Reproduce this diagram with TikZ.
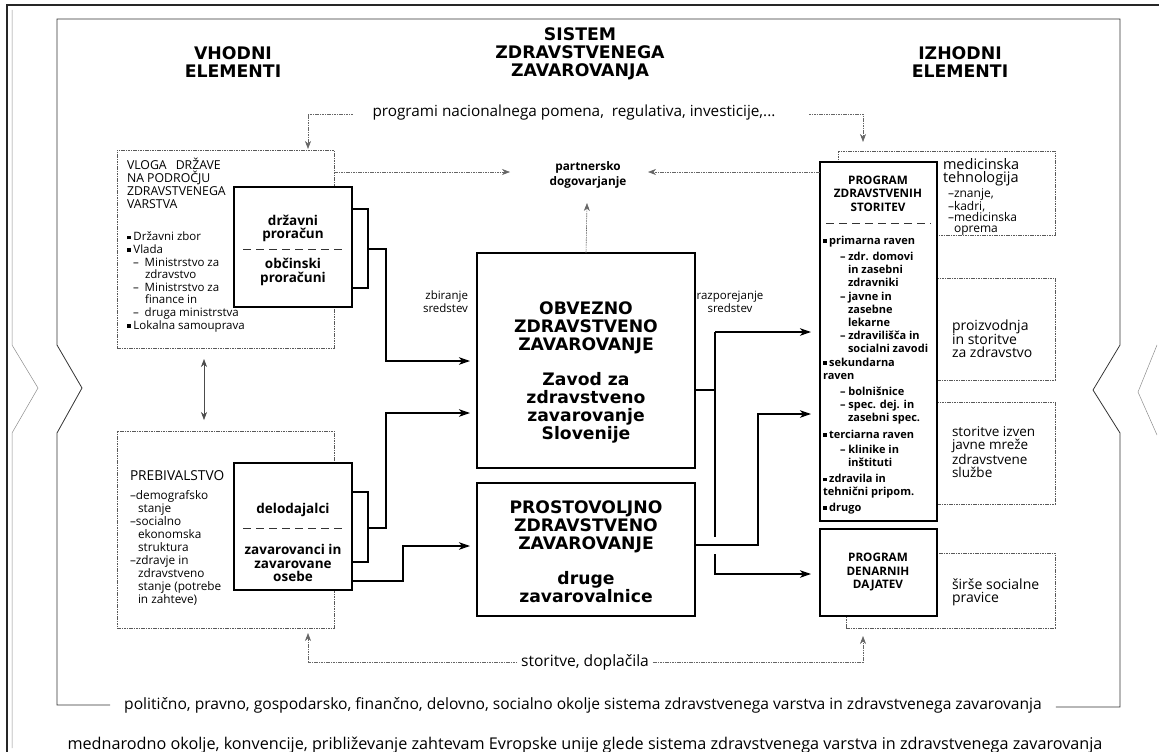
\documentclass[tikz,border=0pt]{standalone}
\usepackage{fontspec}
\setmainfont{Open Sans}
\newfontfamily\wide{DejaVu Sans}
\usetikzlibrary{arrows.meta,calc}
\newcommand{\bul}{\rule[0.12em]{0.34em}{0.34em}\hspace{0.22em}}
\newcommand{\fs}[2]{\fontsize{#1}{#2}\selectfont}
\begin{document}
\begin{tikzpicture}[x=1pt,y=-1pt,
  every node/.style={inner sep=0pt, outer sep=0pt, font=\fs{12}{13}},
  dbox/.style={draw=black!65, dash pattern=on 1.6pt off 0.8pt, line width=0.6pt, fill=white, anchor=north west},
  tbox/.style={draw=black, line width=1.8pt, fill=white, anchor=north west},
  conn/.style={line width=1.6pt, line join=miter},
  arr/.style={conn, -{Stealth[length=11pt,width=7.5pt,inset=3pt]}},
  dconn/.style={draw=black!60, dash pattern=on 1.6pt off 0.8pt, line width=0.6pt},
  darr/.style={dconn, -{Stealth[length=8pt,width=6pt,inset=2.5pt]}},
  sep/.style={dash pattern=on 8pt off 5pt, line width=1pt, draw=black!80},
  head/.style={font=\wide\bfseries\fs{17.3}{18}, align=center},
  bigt/.style={font=\wide\bfseries\fs{17.2}{18}, align=center},
  boxt/.style={font=\bfseries\fs{13.5}{13.5}, align=center},
  prgt/.style={font=\bfseries\fs{11.7}{13.5}, align=center}
]
\useasboundingbox (0,0) rectangle (1159,752);

% outer frames
\draw[line width=1.4pt, black!85] (7,752) -- (7,5) -- (1159,5);
\draw[line width=0.5pt, black!45] (12,748) -- (12,433) -- (38,388) -- (12,345) -- (12,10);
\draw[line width=0.5pt, black!45] (1157,345) -- (1138,392) -- (1157,435);

% headers
\node[head] (hv) at (233,62) {VHODNI\\ELEMENTI};
\node[head] (hs) at (580,54) {SISTEM\\ZDRAVSTVENEGA\\ZAVAROVANJA};
\node[head] (hi) at (960,62) {IZHODNI\\ELEMENTI};

% bottom texts
\node[font=\fs{15.6}{16}] (pol) at (583,705) {politično, pravno, gospodarsko, finančno, delovno, socialno okolje sistema zdravstvenega varstva in zdravstvenega zavarovanja};
\node[font=\fs{16.2}{17}] (mednar) at (585,745) {mednarodno okolje, konvencije, približevanje zahtevam Evropske unije glede sistema zdravstvenega varstva in zdravstvenega zavarovanja};

% inner frame
\draw[line width=0.8pt, black!80] ($(pol.west)+(-14,0)$) -- (57,705) -- (57,433) -- (82,388) -- (57,345) -- (57,19) -- (1120,19) -- (1120,345) -- (1093,390) -- (1120,433) -- (1120,707) -- ($(pol.east)+(14,2)$);

% top texts
\node[font=\fs{15.3}{16}] (prg) at (574,113) {programi nacionalnega pomena,\ \ regulativa, investicije,...};
\node[font=\bfseries\fs{11.8}{14.5}, align=center] (part) at (588,175) {partnersko\\dogovarjanje};

% left side
\node[dbox, minimum width=217, minimum height=198] (vloga) at (117,150) {};
\node[font=\fs{12.3}{12.7}, align=left, anchor=north west] (vlogat) at (127,158.5) {VLOGA\hspace{9pt}DRŽAVE\\NA PODROČJU\\ZDRAVSTVENEGA\\VARSTVA};
\node[font=\fs{11.5}{12.6}, align=left, anchor=north west] (vlogal) at (127,232) {\bul Državni zbor\\\bul Vlada\\\hspace*{6pt}–\ \ Ministrstvo za\\\hspace*{18pt}zdravstvo\\\hspace*{6pt}–\ \ Ministrstvo za\\\hspace*{18pt}finance in\\\hspace*{6pt}–\ \ druga ministrstva\\\bul Lokalna samouprava};
\node[tbox, minimum width=118, minimum height=120] (bud) at (234,187) {};
\node[boxt] (budt1) at (293,228.5) {državni\\proračun};
\node[boxt] (budt2) at (293,272) {občinski\\proračuni};
\draw[sep] ($(bud.north west)+(9,62)$) -- ($(bud.north east)+(-9,62)$);

\node[dbox, minimum width=217, minimum height=197] (preb) at (117,431) {};
\node[font=\fs{13.7}{13}, anchor=west] (prebt) at (130,476) {PREBIVALSTVO};
\node[font=\fs{11.8}{13}, align=left, anchor=north west] (prebl) at (130,490) {–demografsko\\\hspace*{8pt}stanje\\–socialno\\\hspace*{8pt}ekonomska\\\hspace*{8pt}struktura\\–zdravje in\\\hspace*{8pt}zdravstveno\\\hspace*{8pt}stanje (potrebe\\\hspace*{8pt}in zahteve)};
\node[tbox, minimum width=118, minimum height=127] (delo) at (234,463) {};
\node[boxt] (delot1) at (293,510) {delodajalci};
\node[boxt] (delot2) at (293,563) {zavarovanci in\\zavarovane\\osebe};
\draw[sep] ($(delo.north west)+(9,65)$) -- ($(delo.north east)+(-9,65)$);

\draw[<->, >={Stealth[length=8pt,width=6pt,inset=2.5pt]}, line width=0.6pt, black!70, shorten <=11pt, shorten >=11pt] ($(vloga.south west)+(87,0)$) -- ($(preb.north west)+(87,0)$);

% centre
\node[tbox, minimum width=218, minimum height=215] (obv) at (477,253) {};
\node[bigt] (obvt) at (586,372) {OBVEZNO\\ZDRAVSTVENO\\ZAVAROVANJE\\[17pt]Zavod za\\zdravstveno\\zavarovanje\\Slovenije};
\node[tbox, minimum width=218, minimum height=133] (pros) at (477,483) {};
\node[bigt] (prost) at (586,552) {PROSTOVOLJNO\\ZDRAVSTVENO\\ZAVAROVANJE\\[17pt]druge\\zavarovalnice};
\node[font=\fs{11.5}{13}, align=right, anchor=east] (zbir) at (468,301.5) {zbiranje\\sredstev};
\node[font=\fs{11.5}{13}, align=center] (razp) at (730,301.5) {razporejanje\\sredstev};

% right side
\node[dbox, minimum width=217, minimum height=84] (med) at (838,151) {};
\node[dbox, minimum width=118, minimum height=102] (proi) at (937,278) {};
\node[dbox, minimum width=118, minimum height=102] (izven) at (937,402) {};
\node[dbox, minimum width=209, minimum height=75] (sirse) at (846,553) {};
\node[tbox, minimum width=117, minimum height=359] (prog) at (820,162) {};
\node[tbox, minimum width=117, minimum height=87] (den) at (820,529) {};

\node[font=\fs{14.5}{13}, align=left, anchor=north west] (medt) at (943,158) {medicinska\\tehnologija};
\node[font=\fs{12}{11}, align=left, anchor=north west] (medl) at (948,189) {–znanje,\\–kadri,\\–medicinska\\\hspace*{6pt}oprema};
\node[font=\fs{14}{12.7}, align=left, anchor=north west] (proit) at (952,319.5) {proizvodnja\\in storitve\\za zdravstvo};
\node[font=\fs{13.5}{12.9}, align=left, anchor=north west] (izvent) at (952,427) {storitve izven\\javne mreže\\zdravstvene\\službe};
\node[font=\fs{14}{12.9}, align=left, anchor=north west] (sirset) at (952,578.5) {širše socialne\\pravice};

\node[prgt] (progt) at (878,193.5) {PROGRAM\\ZDRAVSTVENIH\\STORITEV};
\draw[sep] ($(prog.north west)+(6,61)$) -- ($(prog.north east)+(-6,61)$);
\node[font=\bfseries\fs{11}{13.2}, align=left, anchor=north west] (progl) at (823,236) {\bul primarna raven\\[3pt]
\hspace*{17pt}– zdr. domovi\\\hspace*{25pt}in zasebni\\\hspace*{25pt}zdravniki\\
\hspace*{17pt}– javne in\\\hspace*{25pt}zasebne\\\hspace*{25pt}lekarne\\
\hspace*{17pt}– zdravilišča in\\\hspace*{25pt}socialni zavodi\\
\bul sekundarna\\raven\\[3pt]
\hspace*{17pt}– bolnišnice\\\hspace*{17pt}– spec. dej. in\\\hspace*{25pt}zasebni spec.\\[3pt]
\bul terciarna raven\\[2pt]
\hspace*{17pt}– klinike in\\\hspace*{25pt}inštituti\\[3pt]
\bul zdravila in\\tehnični pripom.\\[2pt]
\bul drugo};
\node[prgt] (dent) at (878,572) {PROGRAM\\DENARNIH\\DAJATEV};

% thick connectors left
\draw[conn] ($(bud.north east)+(0,22)$) -| ($(bud.north east)+(16,101)$) -- ($(bud.north east)+(0,101)$);
\draw[arr, shorten >=7pt] ($(bud.north east)+(16,62)$) -| ($(obv.north west)+(-91,108)$) -- ($(obv.north west)+(0,108)$);
\draw[conn] ($(delo.north east)+(0,29)$) -| ($(delo.north east)+(16,99)$) -- ($(delo.north east)+(0,99)$);
\draw[arr, shorten >=7pt] ($(delo.north east)+(16,65)$) -| ($(obv.north west)+(-91,160)$) -- ($(obv.north west)+(0,160)$);
\draw[arr, shorten >=7pt] ($(delo.north east)+(0,118)$) -| ($(pros.north west)+(-74,63)$) -- ($(pros.north west)+(0,63)$);

% thick connectors right
\draw[conn] ($(obv.north east)+(0,137)$) -- ($(obv.north east)+(20,137)$);
\draw[conn] ($(obv.north east)+(20,79)$) -- ($(obv.north east)+(20,284)$);
\draw[arr, shorten >=9pt] ($(obv.north east)+(20,79)$) -- ($(prog.north west)+(0,170)$);
\draw[arr, shorten >=9pt] ($(pros.north east)+(0,62)$) -| ($(prog.north west)+(-62,252)$) -- ($(prog.north west)+(0,252)$);
\draw[arr, shorten >=9pt] ($(pros.north east)+(20,71)$) |- ($(den.north west)+(0,45)$);

% dotted connectors
\draw[darr, shorten >=1pt] ($(prg.west)+(-20,1)$) -| ($(vloga.north west)+(191,0)$);
\draw[darr, shorten >=9pt] ($(prg.east)+(34,1)$) -| ($(med.north west)+(25,0)$);
\draw[darr] ($(vloga.north east)+(0,22)$) -- ($(part.center)+(-78,-3)$);
\draw[darr] ($(prog.north west)+(0,10)$) -- ($(part.center)+(60,-3)$);
\draw[darr] (obv.north) -- ($(part.center)+(-1,28)$);

\node[font=\fs{15.6}{16}] (stor) at (585,662) {storitve, doplačila};
\draw[darr, shorten >=5pt] ($(stor.west)+(-4,0)$) -| ($(preb.south west)+(191,0)$);
\draw[darr, shorten >=8pt] ($(stor.east)+(4,0)$) -| ($(sirse.south west)+(17,0)$);
\end{tikzpicture}
\end{document}
